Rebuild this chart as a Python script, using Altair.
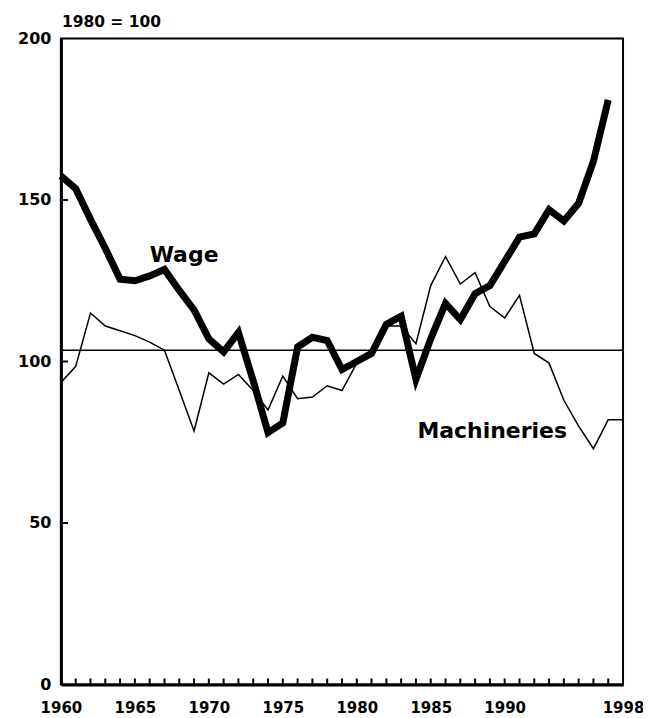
import altair as alt
import pandas as pd

# ---- data ----
wage_years = list(range(1960, 1998))
wage_values = [157.5, 153.5, 144, 135, 125.5, 125, 126.5, 128.5, 122, 116,
               107, 103, 109, 94, 78, 81, 104.5, 107.5, 106.5, 97.5,
               100, 102.5, 111.5, 114, 94.5, 107, 118, 113, 121, 123.5,
               131, 138.5, 139.5, 147, 143.5, 149, 162, 181]

mach_years = list(range(1960, 1999))
mach_values = [93.5, 98.5, 115, 111, 109.5, 108, 106, 103.5, 91, 78.5,
               96.5, 93, 96, 91, 85, 95.5, 88.5, 89, 92.5, 91,
               99.5, 102.5, 111, 111, 105.5, 123.5, 132.5, 124, 127.5, 117,
               113.5, 120.5, 102.5, 99.5, 88, 80, 73, 82, 82]

base_level = [103.5]
x_label_years = [1960, 1965, 1970, 1975, 1980, 1985, 1990, 1998]
x_minor_years = list(range(1961, 1998))
y_tick_values = [0, 50, 100, 150, 200]
y_inner_ticks = [50, 100, 150]
series_labels = ["Wage", "Machineries"]
label_years = [1966.0, 1984.1]
label_values = [130.7, 76.3]
unit_title = ["1980 = 100"]

# ---- chart ----
W, H = 563, 647
FONT = "DejaVu Sans"
xs = alt.Scale(domain=[1960, 1998], nice=False, zero=False)
ys = alt.Scale(domain=[0, 200], nice=False)

x_axis = alt.Axis(values=x_label_years, format="d", labelFont=FONT,
                  labelFontWeight="bold", labelFontSize=15, labelColor="black",
                  ticks=False, domain=True, domainWidth=3, domainColor="black",
                  grid=False, labelPadding=16, labelFlush=False,
                  labelOverlap=False, title=None)
y_axis = alt.Axis(values=y_tick_values, labelFont=FONT, labelFontWeight="bold",
                  labelFontSize=16, labelColor="black", ticks=False,
                  domain=True, domainWidth=3, domainColor="black", grid=False,
                  labelPadding=10, labelFlush=False, labelOverlap=False,
                  title=None)

X = lambda: alt.X("year:Q", scale=xs, axis=x_axis)
Y = lambda: alt.Y("value:Q", scale=ys, axis=y_axis)

wage_df = pd.DataFrame({"year": wage_years, "value": wage_values})
mach_df = pd.DataFrame({"year": mach_years, "value": mach_values})

mach = alt.Chart(mach_df).mark_line(color="black", strokeWidth=1.5).encode(x=X(), y=Y())
wage = alt.Chart(wage_df).mark_line(color="black", strokeWidth=7).encode(x=X(), y=Y())

base = alt.Chart(pd.DataFrame({"value": base_level})).mark_rule(
    color="black", strokeWidth=1.5).encode(y=Y())

xticks = alt.Chart(pd.DataFrame({"year": x_minor_years})).mark_rule(
    color="black", strokeWidth=2).encode(x=X(), y=alt.value(H), y2=alt.value(H - 6))

yticks = alt.Chart(pd.DataFrame({"value": y_inner_ticks})).mark_rule(
    color="black", strokeWidth=2).encode(y=Y(), x=alt.value(0), x2=alt.value(7))

labels = alt.Chart(pd.DataFrame({"year": label_years, "value": label_values,
                                 "t": series_labels})).mark_text(
    align="left", baseline="alphabetic", font=FONT, fontWeight="bold",
    fontSize=22, color="black").encode(x=X(), y=Y(), text="t:N")

title = alt.Chart(pd.DataFrame({"t": unit_title})).mark_text(
    align="left", baseline="alphabetic", font=FONT, fontWeight="bold",
    fontSize=15.5, color="black").encode(text="t:N", x=alt.value(1), y=alt.value(-12))

chart = alt.layer(base, mach, wage, xticks, yticks, labels, title).properties(
    width=W, height=H, autosize="none",
    padding={"left": 53, "top": 30, "right": 20, "bottom": 32},
    background="white",
).configure_view(stroke="black", strokeWidth=2)

chart.save("out.html", embed_options={"renderer": "svg", "actions": False})
